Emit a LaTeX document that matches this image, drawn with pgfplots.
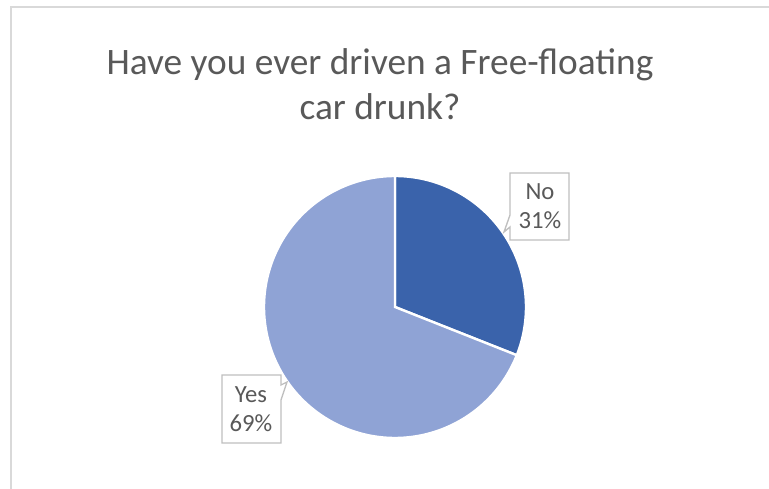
\documentclass[border=0pt]{standalone}
\usepackage{pgfplots}
\usepackage{pgfplotstable}
\pgfplotsset{compat=1.18}
\usepackage{fontspec}
\setmainfont{Carlito}
\definecolor{darkslice}{HTML}{3A63AB}
\definecolor{lightslice}{HTML}{8FA3D5}
\definecolor{txt}{HTML}{595959}
\definecolor{framec}{HTML}{D9D9D9}
\definecolor{boxc}{HTML}{BFBFBF}

\pgfplotstableread{
label value
No 31
Yes 69
}\piedata

\begin{document}
\begin{tikzpicture}
\pgfplotstablegetelem{0}{value}\of\piedata \let\vNo\pgfplotsretval
\pgfplotstablegetelem{1}{value}\of\piedata \let\vYes\pgfplotsretval
\pgfmathsetmacro\aMid{90-3.6*\vNo}
\pgfmathsetmacro\aEnd{\aMid-3.6*\vYes}
\begin{axis}[width=576.75pt,height=366.75pt,scale only axis,
  xmin=0,xmax=769,ymin=0,ymax=489,hide axis,clip=false]
% frame
\draw[framec,line width=1.5pt] (axis cs:11,0) -- (axis cs:11,482) -- (axis cs:769,482);
% title
\node[txt,anchor=base,font=\fontsize{28}{32}\selectfont] at (axis cs:380,414) {Have you ever driven a Free-floating};
\node[txt,anchor=base,font=\fontsize{28}{32}\selectfont] at (axis cs:380,369) {car drunk?};
% slices
\addplot[draw=white,line width=1.8pt,fill=darkslice,domain=\aMid:90,samples=90]
  ({395+131*cos(x)},{182+131*sin(x)}) -- (axis cs:395,182) -- cycle;
\addplot[draw=white,line width=1.8pt,fill=lightslice,domain=\aEnd:\aMid,samples=180]
  ({395+131*cos(x)},{182+131*sin(x)}) -- (axis cs:395,182) -- cycle;
% callouts
\draw[boxc,fill=white,line width=1pt] (axis cs:510,316) -- (axis cs:569,316) -- (axis cs:569,249)
  -- (axis cs:510,249) -- (axis cs:510,262) -- (axis cs:504,257) -- (axis cs:510,274) -- cycle;
\node[txt,anchor=base,font=\fontsize{18.5}{22}\selectfont] at (axis cs:540,289) {No};
\node[txt,anchor=base,font=\fontsize{18.5}{22}\selectfont] at (axis cs:540,260) {31\%};
\draw[boxc,fill=white,line width=1pt] (axis cs:222,114) -- (axis cs:281,114) -- (axis cs:281,104)
  -- (axis cs:287,107) -- (axis cs:281,89) -- (axis cs:281,46) -- (axis cs:222,46) -- cycle;
\node[txt,anchor=base,font=\fontsize{18.5}{22}\selectfont] at (axis cs:251,86) {Yes};
\node[txt,anchor=base,font=\fontsize{18.5}{22}\selectfont] at (axis cs:251,57) {69\%};
\end{axis}
\pgfresetboundingbox
\path (current axis.south west) rectangle (current axis.north east);
\end{tikzpicture}
\end{document}
